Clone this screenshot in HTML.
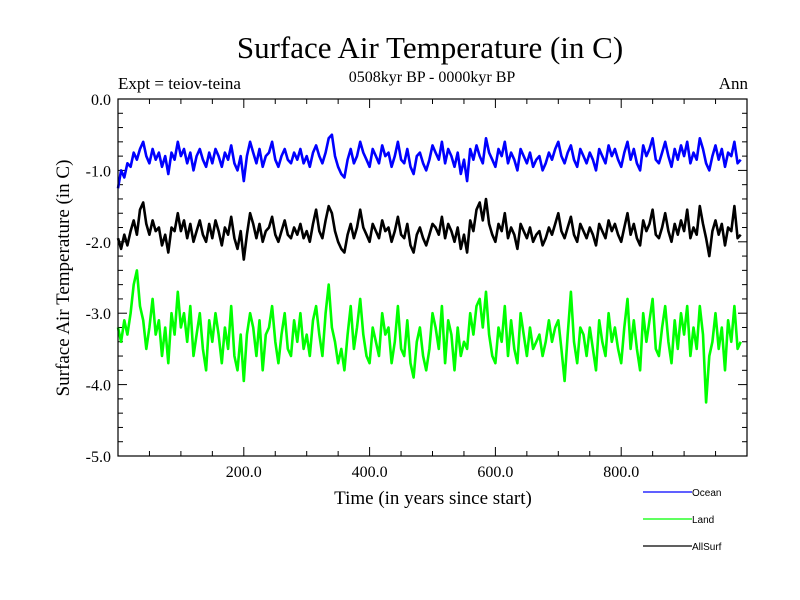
<!DOCTYPE html>
<html><head><meta charset="utf-8"><style>
html,body{margin:0;padding:0;background:#fff}
svg{display:block}
.s{font-family:"Liberation Serif",serif}
.a{font-family:"Liberation Sans",sans-serif}
</style></head><body>
<svg id="c" width="800" height="600" viewBox="0 0 800 600">
<text class="s" x="430" y="58" font-size="31" text-anchor="middle">Surface Air Temperature (in C)</text>
<text class="s" x="118" y="89" font-size="17">Expt = teiov-teina</text>
<text class="s" x="432" y="82" font-size="16" text-anchor="middle">0508kyr BP - 0000kyr BP</text>
<text class="s" x="748" y="89" font-size="17" text-anchor="end">Ann</text>
<text class="s" x="0" y="0" font-size="19" text-anchor="middle" transform="translate(69,278) rotate(-90)">Surface Air Temperature (in C)</text>
<text class="s" x="433" y="504" font-size="19" text-anchor="middle">Time (in years since start)</text>
<g id="axes"></g>
<g id="series"></g>
<rect x="118" y="99" width="629" height="357" fill="none" stroke="#000" stroke-width="1.2"/>
<g>
<line x1="643" y1="492" x2="692" y2="492" stroke="#0000ff" stroke-width="1.3"/>
<text class="a" x="692" y="496" font-size="10">Ocean</text>
<line x1="643" y1="519" x2="692" y2="519" stroke="#00ff00" stroke-width="1.3"/>
<text class="a" x="692" y="523" font-size="10">Land</text>
<line x1="643" y1="546" x2="692" y2="546" stroke="#000" stroke-width="1.3"/>
<text class="a" x="692" y="550" font-size="10">AllSurf</text>
</g>
</svg>
<script>
const years = []; for (let i = 0; i < 199; i++) years.push(i * 5);
const yTickValues = [0, -1, -2, -3, -4, -5];
const yTickLabels = ["0.0", "-1.0", "-2.0", "-3.0", "-4.0", "-5.0"];
const xTickValues = [200, 400, 600, 800];
const xTickLabels = ["200.0", "400.0", "600.0", "800.0"];
const ocean = [-1.25,-1.0,-1.1,-0.9,-0.95,-0.75,-0.85,-0.7,-0.6,-0.8,-0.9,-0.7,-0.85,-0.75,-0.95,-0.8,-1.05,-0.75,-0.85,-0.6,
-0.8,-0.7,-0.9,-0.75,-1.0,-0.8,-0.7,-0.85,-0.95,-0.75,-0.9,-0.7,-0.8,-0.95,-0.75,-0.85,-0.65,-0.9,-1.0,-0.8,
-1.15,-0.8,-0.6,-0.75,-0.9,-0.7,-0.95,-0.8,-0.75,-0.6,-0.85,-0.95,-0.8,-0.7,-0.85,-0.9,-0.75,-0.85,-0.7,-0.9,
-0.8,-0.95,-0.75,-0.65,-0.8,-0.9,-0.75,-0.55,-0.5,-0.8,-0.95,-1.05,-1.1,-0.85,-0.7,-0.9,-0.8,-0.6,-0.75,-0.85,
-0.95,-0.7,-0.8,-0.9,-0.65,-0.8,-0.75,-0.95,-0.8,-0.6,-0.85,-0.9,-0.7,-0.95,-1.05,-0.8,-0.75,-0.9,-1.0,-0.85,
-0.65,-0.75,-0.85,-0.6,-0.9,-0.7,-0.8,-0.95,-0.75,-1.05,-0.85,-1.15,-0.7,-0.85,-0.65,-0.8,-0.9,-0.55,-0.75,-0.85,
-0.95,-0.7,-0.8,-0.6,-0.9,-0.75,-0.85,-1.0,-0.7,-0.8,-0.9,-0.75,-0.95,-0.85,-0.8,-1.0,-0.9,-0.75,-0.85,-0.7,
-0.6,-0.8,-0.9,-0.75,-0.65,-0.85,-0.95,-0.7,-0.8,-0.9,-0.75,-0.85,-1.0,-0.7,-0.8,-0.9,-0.65,-0.8,-0.7,-0.85,
-0.95,-0.75,-0.6,-0.85,-0.7,-0.9,-1.0,-0.65,-0.8,-0.7,-0.55,-0.85,-0.9,-0.75,-0.6,-0.8,-0.95,-0.7,-0.85,-0.65,
-0.8,-0.6,-0.9,-0.75,-0.85,-0.55,-0.7,-0.9,-1.0,-0.8,-0.65,-0.85,-0.7,-0.95,-0.75,-0.8,-0.6,-0.9,-0.85];
const allsurf = [-1.95,-2.1,-1.9,-2.05,-1.85,-1.7,-1.9,-1.55,-1.45,-1.75,-1.9,-1.7,-1.85,-1.8,-2.05,-1.9,-2.15,-1.8,-1.85,-1.6,
-1.85,-1.7,-1.95,-1.75,-2.0,-1.85,-1.7,-1.9,-2.0,-1.75,-1.95,-1.7,-1.85,-2.05,-1.8,-1.9,-1.65,-1.95,-2.1,-1.85,
-2.25,-1.9,-1.6,-1.75,-1.95,-1.75,-2.0,-1.85,-1.8,-1.65,-1.9,-2.0,-1.85,-1.7,-1.9,-1.95,-1.8,-1.9,-1.75,-1.95,
-1.85,-2.0,-1.75,-1.55,-1.85,-1.95,-1.7,-1.5,-1.6,-1.85,-2.0,-2.1,-2.15,-1.9,-1.75,-1.95,-1.8,-1.55,-1.8,-1.9,
-2.0,-1.75,-1.85,-1.95,-1.7,-1.85,-1.8,-2.0,-1.85,-1.65,-1.9,-1.95,-1.75,-2.05,-2.15,-1.9,-1.8,-1.95,-2.05,-1.9,
-1.75,-1.8,-1.9,-1.65,-1.95,-1.75,-1.85,-2.0,-1.8,-2.1,-1.9,-2.15,-1.7,-1.85,-1.55,-1.45,-1.7,-1.4,-1.75,-1.9,
-2.0,-1.75,-1.85,-1.6,-1.95,-1.8,-1.9,-2.1,-1.75,-1.85,-1.95,-1.8,-2.0,-1.9,-1.85,-2.05,-1.95,-1.8,-1.9,-1.75,
-1.6,-1.85,-1.95,-1.8,-1.65,-1.9,-2.0,-1.75,-1.85,-1.95,-1.8,-1.9,-2.05,-1.75,-1.85,-1.95,-1.7,-1.85,-1.75,-1.9,
-2.0,-1.8,-1.6,-1.9,-1.75,-1.95,-2.05,-1.7,-1.85,-1.75,-1.55,-1.9,-1.95,-1.8,-1.6,-1.85,-2.0,-1.75,-1.9,-1.7,
-1.85,-1.55,-1.95,-1.8,-1.9,-1.5,-1.75,-1.95,-2.2,-1.85,-1.7,-1.9,-1.75,-2.05,-1.8,-1.85,-1.5,-1.95,-1.9];
const land = [-3.2,-3.4,-3.1,-3.3,-3.0,-2.6,-2.4,-2.9,-3.1,-3.5,-3.2,-2.8,-3.3,-3.1,-3.6,-3.2,-3.7,-3.0,-3.3,-2.7,
-3.2,-3.0,-3.4,-2.9,-3.6,-3.3,-3.0,-3.5,-3.8,-3.1,-3.4,-3.0,-3.3,-3.7,-3.2,-3.5,-2.9,-3.6,-3.8,-3.3,
-3.95,-3.3,-3.0,-3.2,-3.6,-3.1,-3.8,-3.3,-3.2,-2.9,-3.4,-3.7,-3.3,-3.0,-3.5,-3.6,-3.1,-3.4,-3.0,-3.5,
-3.3,-3.6,-3.1,-2.9,-3.3,-3.6,-3.0,-2.6,-3.2,-3.4,-3.7,-3.5,-3.8,-3.3,-2.9,-3.5,-3.2,-2.8,-3.3,-3.6,
-3.7,-3.2,-3.4,-3.6,-3.0,-3.3,-3.2,-3.7,-3.4,-2.9,-3.5,-3.6,-3.1,-3.7,-3.9,-3.4,-3.2,-3.6,-3.8,-3.5,
-3.0,-3.2,-3.5,-2.9,-3.7,-3.1,-3.3,-3.8,-3.2,-3.6,-3.4,-3.5,-3.0,-3.3,-2.9,-2.8,-3.2,-2.7,-3.3,-3.6,
-3.7,-3.2,-3.4,-2.9,-3.6,-3.1,-3.5,-3.7,-3.0,-3.3,-3.6,-3.2,-3.5,-3.4,-3.3,-3.6,-3.4,-3.1,-3.4,-3.2,
-3.1,-3.5,-3.95,-3.3,-2.7,-3.4,-3.7,-3.2,-3.3,-3.6,-3.2,-3.5,-3.8,-3.1,-3.4,-3.6,-3.0,-3.4,-3.2,-3.5,
-3.7,-3.2,-2.8,-3.5,-3.1,-3.5,-3.8,-3.0,-3.4,-3.1,-2.8,-3.5,-3.6,-3.2,-2.9,-3.4,-3.7,-3.1,-3.5,-3.0,
-3.3,-2.9,-3.6,-3.2,-3.5,-2.9,-3.3,-4.25,-3.6,-3.4,-3.0,-3.5,-3.2,-3.8,-3.1,-3.4,-2.9,-3.5,-3.4];

const NS = "http://www.w3.org/2000/svg";
const X0 = 118, X1 = 747, Y0 = 99, Y1 = 456;
function xs(v){ return X0 + (v / 1000) * (X1 - X0); }
function ys(v){ return Y0 + (0 - v) / 5 * (Y1 - Y0); }
const axes = document.getElementById('axes');
function ln(x1,y1,x2,y2,name){
  const l = document.createElementNS(NS,'line');
  l.setAttribute('x1',x1); l.setAttribute('y1',y1); l.setAttribute('x2',x2); l.setAttribute('y2',y2);
  l.setAttribute('stroke','#000'); l.setAttribute('stroke-width','1');
  
  
  axes.appendChild(l);
}
function tx(x,y,s,anchor,name){
  const t = document.createElementNS(NS,'text');
  t.setAttribute('x',x); t.setAttribute('y',y); t.setAttribute('class','s');
  t.setAttribute('font-size','16'); t.setAttribute('text-anchor',anchor);
  t.textContent = s;
  
  
  axes.appendChild(t);
}
for (let k = 0; k <= 25; k++) {
  const v = -k * 0.2, y = ys(v), major = k % 5 === 0;
  const L = major ? 9 : 5;
  ln(X0, y, X0 + L, y, 'y-tick');
  ln(X1, y, X1 - L, y, 'y-tick-right');
}
yTickValues.forEach((v,i)=>tx(X0 - 7, ys(v) + 6, yTickLabels[i], 'end', 'y-tick-label'));
for (let v = 50; v < 1000; v += 50) {
  const major = v % 200 === 0, L = major ? 9 : 5;
  ln(xs(v), Y1, xs(v), Y1 - L, 'x-tick');
  ln(xs(v), Y0, xs(v), Y0 + L, 'x-tick-top');
}
xTickValues.forEach((v,i)=>tx(xs(v), 477, xTickLabels[i], 'middle', 'x-tick-label'));

const sg = document.getElementById('series');
function draw(vals, color, name){
  const p = document.createElementNS(NS,'polyline');
  p.setAttribute('points', vals.map((v,i)=>xs(years[i]).toFixed(1)+','+ys(v).toFixed(1)).join(' '));
  p.setAttribute('fill','none'); p.setAttribute('stroke',color); p.setAttribute('stroke-width','2.6');
  p.setAttribute('stroke-linejoin','round');
  
  
  sg.appendChild(p);
}
draw(land, '#00ff00', 'land-line');
draw(allsurf, '#000000', 'allsurf-line');
draw(ocean, '#0000ff', 'ocean-line');
</script>
</body></html>
